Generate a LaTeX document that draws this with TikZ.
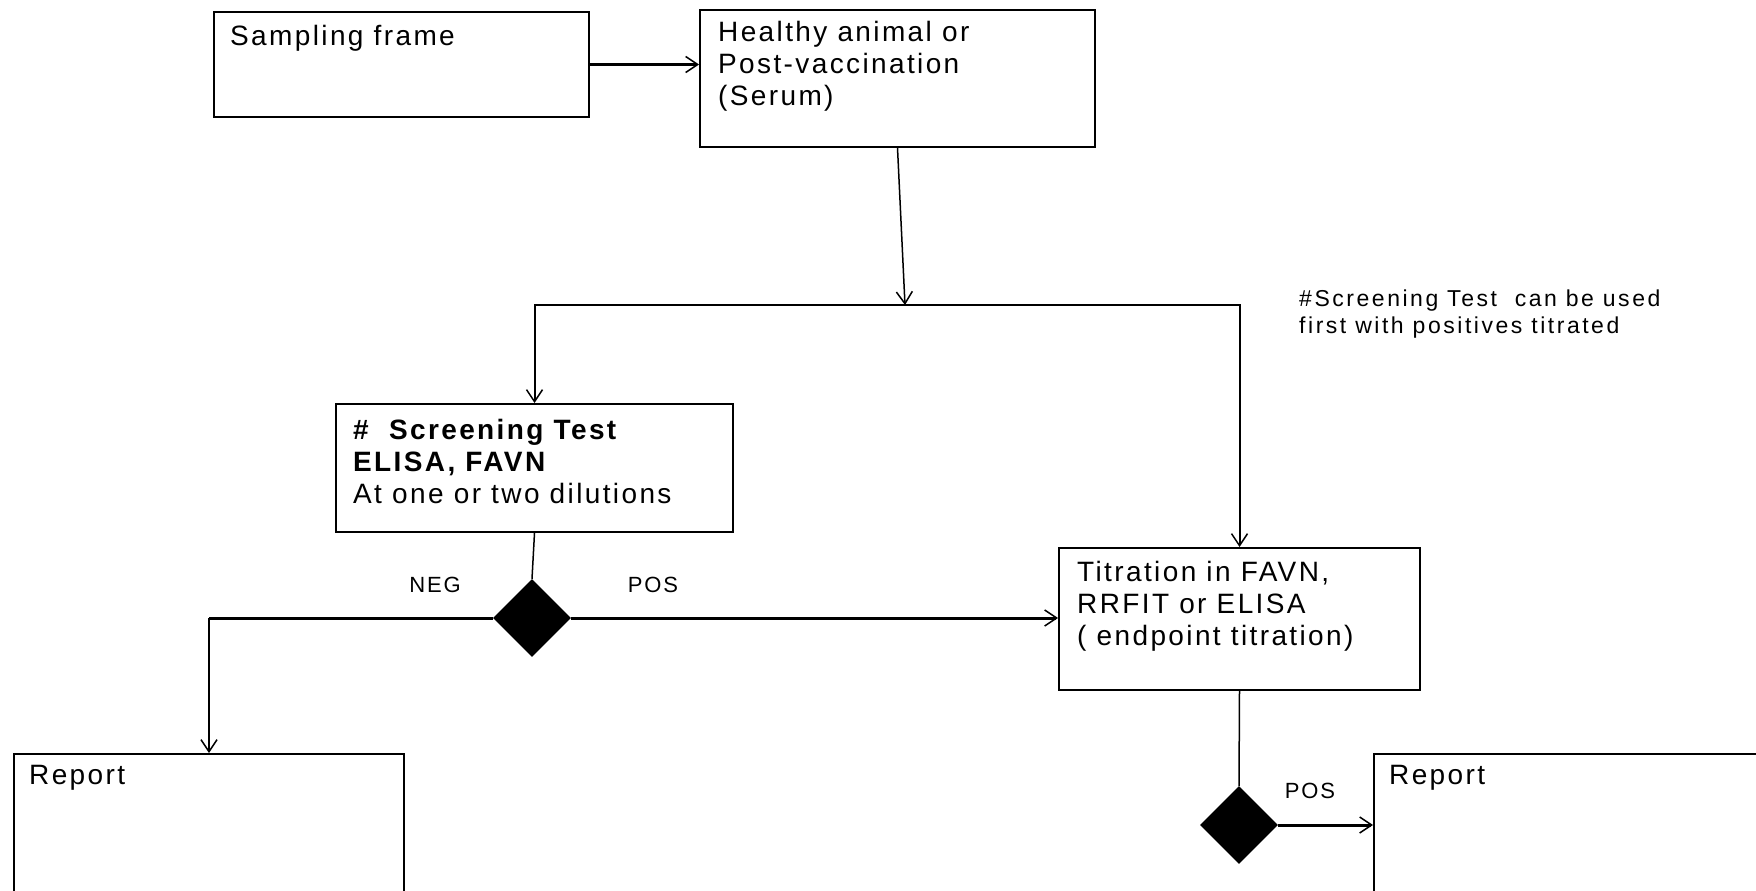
\documentclass[tikz,border=0pt]{standalone}
\usepackage{fontspec}
\setmainfont{Liberation Sans}[LetterSpace=8.5]
\newfontfamily\notefont{Liberation Sans}[LetterSpace=11]
\usetikzlibrary{arrows.meta, positioning, shapes.geometric}

\begin{document}
\begin{tikzpicture}[x=1pt, y=-1pt,
    box/.style={draw, line width=2pt, inner sep=0pt, anchor=north west},
    boxtext/.style={anchor=north west, inner sep=0pt, align=left, font=\fontsize{28}{32}\selectfont},
    tag/.style={inner sep=0pt, font=\fontsize{22}{26}\selectfont},
    decision/.style={diamond, fill=black, inner sep=0pt, minimum width=78pt, minimum height=78pt},
    conn/.style={line width=1.5pt},
    heavy/.style={line width=3pt},
    arr/.style={-{Straight Barb[length=12pt, width=16pt, line width=1.5pt]}}]

    \useasboundingbox (0,0) rectangle (1756,891);
    \clip (0,0) rectangle (1756,891);

    % sampling frame box
    \node[box, minimum width=375pt, minimum height=105pt] (frame) at (213,11) {};
    \node[boxtext] (frametext) at (230,25) {Sampling frame};

    % serum box
    \node[box, minimum width=395pt, minimum height=137pt] (serum) at (699,9) {};
    \node[boxtext] (serumtext) at (718,21) {Healthy animal or\\Post-vaccination\\(Serum)};

    % screening box
    \node[box, minimum width=397pt, minimum height=128pt] (screen) at (335,403) {};
    \node[boxtext] (screentext) at (353,419) {\textbf{\#\ \ Screening Test}\\\textbf{ELISA, FAVN}\\At one or two dilutions};

    % titration box
    \node[box, minimum width=361pt, minimum height=142pt] (titr) at (1058,547) {};
    \node[boxtext] (titrtext) at (1077,561) {Titration in FAVN,\\RRFIT or ELISA\\( endpoint titration)};

    % report boxes
    \node[box, minimum width=390pt, minimum height=220pt] (rep1) at (13,753) {};
    \node[boxtext] (rep1text) at (29,765) {Report};
    \node[box, minimum width=450pt, minimum height=220pt] (rep2) at (1373,753) {};
    \node[boxtext] (rep2text) at (1389,765) {Report};

    % note
    \node[anchor=north west, inner sep=0pt, align=left,
          font=\notefont\fontsize{23}{27}\selectfont] (note) at (1299,290)
          {\#Screening Test\ \ can be used\\first with positives titrated};

    % decisions
    \node[decision] (dec1) at (532,618) {};
    \node[decision] (dec2) at (1239,825) {};
    \node[tag] (neg) at (435,585) {NEG};
    \node[tag] (pos1) at (653,585) {POS};
    \node[tag] (pos2) at (1310,791) {POS};

    \coordinate (split) at (905,305);

    % connectors
    \draw[heavy, arr] (frame.east) -- (serum.west |- frame.east);
    \draw[conn, arr] (serum.south) -- (split);
    \draw[line width=2pt, {Straight Barb[length=12pt, width=16pt, line width=1.5pt]}-{Straight Barb[length=12pt, width=16pt, line width=1.5pt]}]
        (screen.north) |- (split) -| (titr.north);
    \draw[conn] (screen.south) -- (dec1.north);
    \draw[heavy] (dec1.west) -- (dec1.west -| rep1.north);
    \draw[conn, arr] (dec1.west -| rep1.north) -- (rep1.north);
    \draw[heavy, arr] (dec1.east) -- (titr.west |- dec1.east);
    \draw[conn] (titr.south) -- (dec2.north);
    \draw[heavy, arr] (dec2.east) -- (rep2.west |- dec2.east);
\end{tikzpicture}
\end{document}
